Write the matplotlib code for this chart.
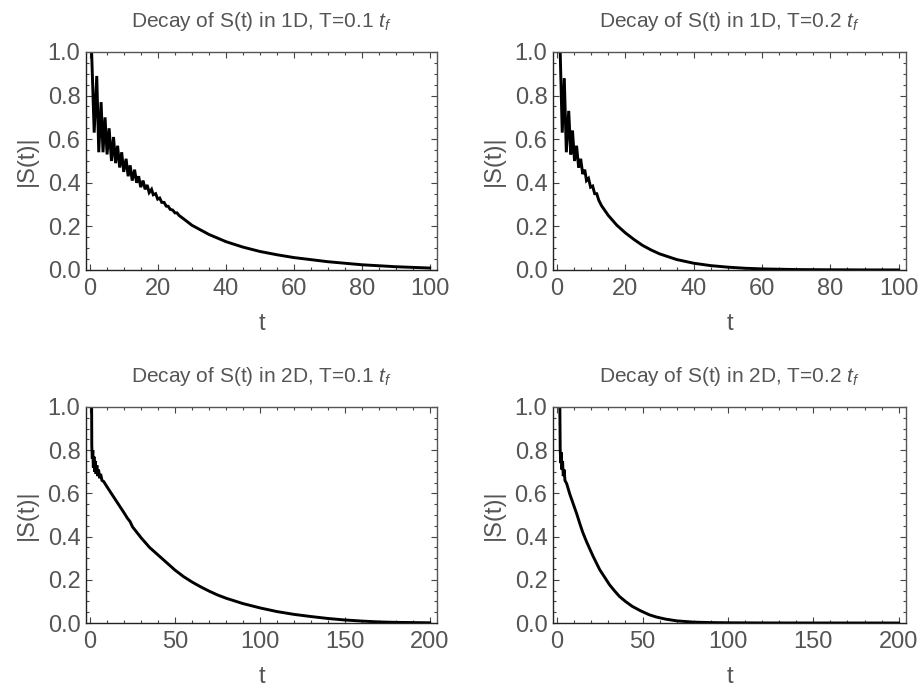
import matplotlib.pyplot as plt
from matplotlib.ticker import MultipleLocator

plt.rcParams['font.family'] = ['Liberation Sans', 'DejaVu Sans']
plt.rcParams['mathtext.fontset'] = 'custom'
plt.rcParams['mathtext.rm'] = 'Liberation Sans'
plt.rcParams['mathtext.it'] = 'Liberation Sans:italic'

# values
titles = ['Decay of S(t) in 1D, T=0.1 $t_f$', 'Decay of S(t) in 1D, T=0.2 $t_f$',
          'Decay of S(t) in 2D, T=0.1 $t_f$', 'Decay of S(t) in 2D, T=0.2 $t_f$']

t_1d_01 = [0.45, 1.2, 1.96, 2.55, 3.24, 3.8, 4.4, 5.0, 5.6, 6.3,
           6.9, 7.5, 8.1, 8.7, 9.3, 9.9, 10.6, 11.2, 11.8, 12.4,
           13.1, 13.7, 14.3, 14.9, 15.6, 16.2, 16.8, 17.4, 18.1, 18.6,
           19.3, 19.9, 20.5, 21.1, 21.8, 22.4, 23.0, 23.6, 24.3, 25,
           25.6, 26.2, 27.5, 30, 35, 40, 45, 50, 55, 60, 70, 80, 90, 100]
s_1d_01 = [1.0, 0.63, 0.89, 0.54, 0.77, 0.54, 0.70, 0.53, 0.65, 0.50,
           0.61, 0.49, 0.57, 0.47, 0.54, 0.45, 0.51, 0.43, 0.48, 0.41,
           0.46, 0.40, 0.43, 0.38, 0.41, 0.37, 0.39, 0.355, 0.37, 0.345,
           0.35, 0.325, 0.33, 0.31, 0.31, 0.293, 0.292, 0.278, 0.275, 0.262,
           0.262, 0.25, 0.235, 0.205, 0.163, 0.13, 0.105, 0.085, 0.07, 0.057, 0.038, 0.024, 0.015, 0.009]

t_1d_02 = [0.9, 1.5, 2.1, 2.7, 3.4, 4.0, 4.5, 5.1, 5.7, 6.3,
           6.9, 7.5, 8.1, 8.6, 9.2, 9.8, 10.4, 11.0, 11.6, 12.2,
           13, 15, 17.5, 20, 22.5, 25, 27.5, 30, 35, 40,
           45, 50, 55, 60, 70, 80, 90, 100]
s_1d_02 = [1.0, 0.63, 0.88, 0.54, 0.73, 0.53, 0.64, 0.50, 0.57, 0.47,
           0.51, 0.44, 0.46, 0.41, 0.42, 0.38, 0.385, 0.35, 0.35, 0.32,
           0.295, 0.25, 0.205, 0.17, 0.14, 0.113, 0.092, 0.074, 0.048, 0.031,
           0.02, 0.013, 0.008, 0.005, 0.002, 0.001, 0.0004, 0.0002]

t_2d_01 = [0.9, 1.0, 1.3, 1.6, 1.9, 2.3, 2.7, 3.1, 3.5, 4.0,
           4.5, 5.0, 5.6, 6.2, 7, 8, 10, 12.5, 15, 17.5,
           20, 22, 23.5, 25, 27.5, 30, 35, 40, 45, 50,
           55, 60, 65, 70, 75, 80, 90, 100, 110, 120,
           130, 140, 150, 160, 170, 180, 190, 200]
s_2d_01 = [1.0, 0.82, 0.76, 0.80, 0.72, 0.77, 0.70, 0.75, 0.69, 0.73,
           0.68, 0.71, 0.67, 0.69, 0.66, 0.655, 0.63, 0.60, 0.57, 0.54,
           0.51, 0.485, 0.47, 0.445, 0.42, 0.395, 0.35, 0.315, 0.28, 0.245,
           0.215, 0.19, 0.168, 0.148, 0.13, 0.115, 0.09, 0.07, 0.053, 0.04,
           0.03, 0.021, 0.014, 0.009, 0.005, 0.003, 0.002, 0.001]

t_2d_02 = [1.6, 1.8, 2.1, 2.4, 2.8, 3.2, 3.6, 4.1, 4.6, 5.6,
           7.5, 9.5, 11.5, 13.3, 15, 17.2, 19, 21, 23, 25,
           28, 30.7, 33.5, 36.5, 40, 44, 49, 54, 58, 63.5,
           70, 80, 90, 100, 120, 150, 200]
s_2d_02 = [1.0, 0.81, 0.74, 0.79, 0.71, 0.75, 0.68, 0.71, 0.66, 0.645,
           0.595, 0.55, 0.505, 0.46, 0.42, 0.377, 0.345, 0.31, 0.278, 0.246,
           0.21, 0.177, 0.15, 0.123, 0.1, 0.077, 0.056, 0.038, 0.028, 0.018,
           0.01, 0.004, 0.002, 0.001, 0.0003, 0.0001, 0.0]

series = [(t_1d_01, s_1d_01), (t_1d_02, s_1d_02), (t_2d_01, s_2d_01), (t_2d_02, s_2d_02)]
t_max = [100, 100, 200, 200]

gray = '#555555'
fig = plt.figure(figsize=(9.22, 6.93), dpi=100)
rects = [[0.0933, 0.6104, 0.3807, 0.3146], [0.5998, 0.6104, 0.3829, 0.3146],
         [0.0933, 0.1010, 0.3807, 0.3117], [0.5998, 0.1010, 0.3829, 0.3117]]

for i in range(4):
    ax = fig.add_axes(rects[i])
    t, s = series[i]
    ax.plot(t, s, color='black', lw=2.1, solid_joinstyle='miter')
    pad = t_max[i] * 0.012
    ax.set_xlim(-pad, t_max[i] + pad * 1.8)
    ax.set_ylim(0, 1)
    major = 20 if t_max[i] == 100 else 50
    minor = 5 if t_max[i] == 100 else 10
    ax.xaxis.set_major_locator(MultipleLocator(major))
    ax.xaxis.set_minor_locator(MultipleLocator(minor))
    ax.yaxis.set_major_locator(MultipleLocator(0.2))
    ax.yaxis.set_minor_locator(MultipleLocator(0.05))
    ax.tick_params(which='both', direction='in', top=True, right=True,
                   color='#444444', width=0.8, labelsize=17, labelcolor=gray)
    ax.tick_params(which='major', length=4.5, pad=6)
    ax.tick_params(which='minor', length=2.5)
    ax.tick_params(axis='y', which='major', pad=4)
    ax.set_yticks([0, 0.2, 0.4, 0.6, 0.8, 1.0], ['0.0', '0.2', '0.4', '0.6', '0.8', '1.0'])
    for sp in ax.spines.values():
        sp.set_color('#555555')
        sp.set_linewidth(1.0)
    ax.spines['left'].set_color('#222222')
    ax.spines['bottom'].set_color('#222222')
    ax.set_title(titles[i], fontsize=15, color=gray, pad=18)
    ax.set_xlabel('t', fontsize=17, color=gray, labelpad=9)
    ax.set_ylabel('|S(t)|', fontsize=17, color=gray, labelpad=7)

fig.savefig('out.png', dpi=100)
